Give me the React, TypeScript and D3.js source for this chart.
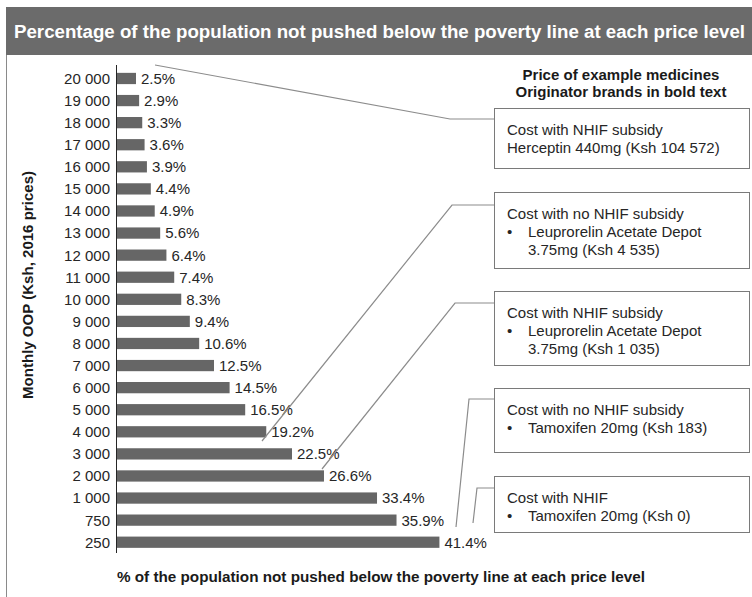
import React from "react";
import * as d3 from "d3";

const categories = ["20 000","19 000","18 000","17 000","16 000","15 000","14 000","13 000","12 000","11 000","10 000","9 000","8 000","7 000","6 000","5 000","4 000","3 000","2 000","1 000","750","250"];
const values = [2.5,2.9,3.3,3.6,3.9,4.4,4.9,5.6,6.4,7.4,8.3,9.4,10.6,12.5,14.5,16.5,19.2,22.5,26.6,33.4,35.9,41.4];
const valueLabels = values.map((v) => `${v.toFixed(1)}%`);

const chartTitle = "Percentage of the population not pushed below the poverty line at each price level";
const xTitle = "% of the population  not pushed below the poverty line at each price level";
const yTitle = "Monthly OOP (Ksh, 2016 prices)";
const legendHeader = ["Price of example medicines", "Originator brands in bold text"];

const boxHeads = ["Cost with NHIF subsidy","Cost with no NHIF subsidy","Cost with NHIF subsidy","Cost with no NHIF subsidy","Cost with NHIF"];
const boxItems = [
  ["Herceptin 440mg (Ksh 104 572)"],
  ["Leuprorelin Acetate Depot", "3.75mg (Ksh 4 535)"],
  ["Leuprorelin Acetate Depot", "3.75mg (Ksh 1 035)"],
  ["Tamoxifen 20mg (Ksh 183)"],
  ["Tamoxifen 20mg (Ksh 0)"],
];
const boxBullets = [false, true, true, true, true];

// layout (not data)
const boxLayout = [
  { y0: 108, y1: 168, leader: [[155, 65], [450, 119], [494, 119]] },
  { y0: 192, y1: 268, leader: [[262, 441], [452, 205], [494, 205]] },
  { y0: 291, y1: 365, leader: [[322, 469], [455, 303], [494, 303]] },
  { y0: 388, y1: 452, leader: [[456, 527], [469, 399], [494, 399]] },
  { y0: 476, y1: 532, leader: [[473, 523], [477, 488], [494, 488]] },
];

const W = 752, H = 597;
const FONT = "'Liberation Sans', Arial, sans-serif";

export default function App() {
  const x = d3.scaleLinear().domain([0, 45]).range([116.5, 116.5 + 45 * 7.8]);
  const y = d3.scaleBand<string>().domain(categories).range([67, 553.7]).paddingInner(0.49).paddingOuter(0.265);
  const line = d3.line();
  const bx0 = 494, bx1 = 749;

  return (
    <svg width={W} height={H} style={{ position: "absolute", left: 0, top: 0, background: "#fff" }} fontFamily={FONT}>
      <rect x={6} y={7} width={W - 6} height={48} fill="#6b6b6b" />
      <text x={14} y={38} fill="#fff" fontSize={18} fontWeight="bold" textLength={731} lengthAdjust="spacingAndGlyphs">{chartTitle}</text>
      <line x1={6.5} x2={6.5} y1={55} y2={H} stroke="#8a8a8a" strokeWidth={1} />

      {/* bars */}
      {categories.map((c, i) => (
        <g key={c}>
          <rect x={x(0)} y={y(c)} width={x(values[i]) - x(0)} height={y.bandwidth()} fill="#666666" />
          <text x={x(values[i]) + 5} y={(y(c) as number) + y.bandwidth() / 2} dy="0.36em" fontSize={15} fill="#262626">{valueLabels[i]}</text>
          <text x={110} y={(y(c) as number) + y.bandwidth() / 2} dy="0.36em" fontSize={15} fill="#262626" textAnchor="end">{c}</text>
        </g>
      ))}
      <line x1={x(0)} x2={x(0)} y1={65} y2={553} stroke="#262626" strokeWidth={1} />

      <text x={117} y={582} fontSize={15} fontWeight="bold" fill="#1a1a1a" textLength={528} lengthAdjust="spacingAndGlyphs">{xTitle}</text>
      <text transform="translate(33,285) rotate(-90)" textAnchor="middle" fontSize={15} fontWeight="bold" fill="#1a1a1a" textLength={228} lengthAdjust="spacingAndGlyphs">{yTitle}</text>

      {legendHeader.map((t, i) => (
        <text key={t} x={621} y={80 + i * 17} textAnchor="middle" fontSize={15} fontWeight="bold" fill="#1a1a1a">{t}</text>
      ))}

      {boxLayout.map((b, i) => (
        <g key={i}>
          <path d={line(b.leader as [number, number][]) || ""} fill="none" stroke="#8c8c8c" strokeWidth={1.2} />
          <rect x={bx0 + 0.5} y={b.y0 + 0.5} width={bx1 - bx0} height={b.y1 - b.y0} fill="#fff" stroke="#7a7a7a" strokeWidth={1} />
          <text x={507} y={b.y0 + 26.5} fontSize={15} fill="#262626">{boxHeads[i]}</text>
          {boxItems[i].map((t, j) => (
            <g key={j}>
              {boxBullets[i] && j === 0 && <text x={507} y={b.y0 + 26.5 + 18.3 * (j + 1)} fontSize={15} fill="#262626">•</text>}
              <text x={boxBullets[i] ? 528 : 507} y={b.y0 + 26.5 + 18.3 * (j + 1)} fontSize={15} fill="#262626">{t}</text>
            </g>
          ))}
        </g>
      ))}
    </svg>
  );
}
